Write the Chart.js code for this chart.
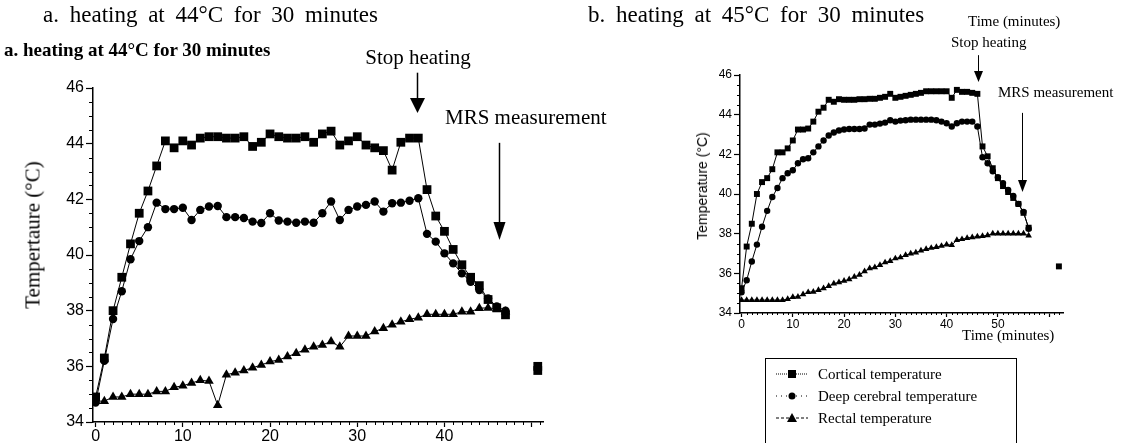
<!DOCTYPE html>
<html><head><meta charset="utf-8">
<script src="https://cdn.jsdelivr.net/npm/chart.js@4.4.1/dist/chart.umd.min.js"></script>
<style>
html,body{margin:0;padding:0;background:#fff;width:1130px;height:443px;overflow:hidden;position:relative;font-family:"Liberation Serif",serif;color:#000}
.t{position:absolute;white-space:nowrap;line-height:1}
#cA{position:absolute;left:0;top:0}
#cB{position:absolute;left:690px;top:0}
.legend{position:absolute;left:765px;top:358px;width:252px;height:120px;border:1px solid #000;box-sizing:border-box}
.lrow{position:absolute;left:8px;height:18px;font-size:15px;line-height:18px;white-space:nowrap}
.lrow svg{position:absolute;left:0;top:1px}
.lrow span{position:absolute;left:44px;top:0}
</style></head><body>
<canvas id="cA" width="565" height="443"></canvas>
<canvas id="cB" width="440" height="443"></canvas>

<div class="t" style="left:43px;top:3px;font-size:23px;word-spacing:5px">a. heating at 44°C for 30 minutes</div>
<div class="t" style="left:588px;top:3px;font-size:23px;word-spacing:5px">b. heating at 45°C for 30 minutes</div>
<div class="t" style="left:4px;top:40px;font-size:19px;font-weight:bold">a. heating at 44°C for 30 minutes</div>
<div class="t" style="left:418px;top:47px;font-size:21px;transform:translateX(-50%)">Stop heating</div>
<div class="t" style="left:445px;top:107px;font-size:21px">MRS measurement</div>
<div class="t" style="left:968px;top:14px;font-size:15px">Time (minutes)</div>
<div class="t" style="left:951px;top:35px;font-size:15px">Stop heating</div>
<div class="t" style="left:998px;top:85px;font-size:15px">MRS measurement</div>
<div class="t" style="left:962px;top:328px;font-size:15px">Time (minutes)</div>
<div class="t" style="left:33px;top:235px;font-size:21px;transform:translate(-50%,-50%) rotate(-90deg)">Tempertaure (°C)</div>
<div class="t" style="left:702px;top:186px;font-size:14px;font-family:'Liberation Sans',sans-serif;transform:translate(-50%,-50%) rotate(-90deg)">Temperature (°C)</div>

<div class="legend">
  <div class="lrow" style="top:6px"><svg width="36" height="16"><line x1="2" y1="8" x2="34" y2="8" stroke="#000" stroke-width="1" stroke-dasharray="1,1"/><rect x="14" y="4" width="8" height="8" fill="#000"/></svg><span>Cortical temperature</span></div>
  <div class="lrow" style="top:28px"><svg width="36" height="16"><line x1="2" y1="8" x2="34" y2="8" stroke="#000" stroke-width="1" stroke-dasharray="1,4"/><circle cx="18" cy="8" r="3.5" fill="#000"/></svg><span>Deep cerebral temperature</span></div>
  <div class="lrow" style="top:50px"><svg width="36" height="16"><line x1="2" y1="8" x2="34" y2="8" stroke="#000" stroke-width="1" stroke-dasharray="3,2"/><polygon points="18,3 23,12 13,12" fill="#000"/></svg><span>Rectal temperature</span></div>
</div>

<script>
// ---------- Panel a: heating at 44°C ----------
const timeA = [0,1,2,3,4,5,6,7,8,9,10,11,12,13,14,15,16,17,18,19,20,21,22,23,24,25,26,27,28,29,30,31,32,33,34,35,36,37,38,39,40,41,42,43,44,45,46,47];
const corticalA = [34.9,36.3,38.0,39.2,40.4,41.5,42.3,43.2,44.1,43.85,44.1,43.95,44.2,44.25,44.25,44.2,44.2,44.25,43.9,44.05,44.35,44.25,44.2,44.2,44.25,44.05,44.35,44.45,43.95,44.1,44.25,43.95,43.85,43.75,43.05,44.05,44.2,44.2,42.35,41.4,40.85,40.2,39.65,39.2,38.9,38.4,38.1,37.85];
const deepA = [34.7,36.2,37.7,38.7,39.85,40.5,41.0,41.88,41.65,41.65,41.7,41.26,41.62,41.74,41.76,41.36,41.36,41.33,41.2,41.15,41.5,41.24,41.2,41.16,41.2,41.16,41.5,41.92,41.26,41.62,41.74,41.8,41.92,41.56,41.86,41.88,41.95,42.04,40.76,40.48,40.06,39.7,39.34,39.04,38.74,38.44,38.15,38.0];
const rectalA = [34.75,34.75,34.9,34.9,35.0,35.0,35.0,35.1,35.1,35.25,35.3,35.4,35.5,35.47,34.6,35.7,35.77,35.85,35.95,36.05,36.17,36.23,36.35,36.47,36.6,36.7,36.77,36.89,36.7,37.09,37.09,37.09,37.25,37.37,37.49,37.6,37.69,37.75,37.87,37.87,37.87,37.87,37.96,37.96,38.09,38.1,38.07,37.96];
const extraTimeA = [50.7,50.7];
const extraCorticalA = [36.0,35.85];
const xTicksA = [0,10,20,30,40,50];
const xLabelsA = ['0','10','20','30','40',''];
const yTicks = [34,36,38,40,42,44,46];
const yMinor = [34.5,35,35.5,36.5,37,37.5,38.5,39,39.5,40.5,41,41.5,42.5,43,43.5,44.5,45,45.5];
const xMinorA = [1,2,3,4,5,6,7,8,9,11,12,13,14,15,16,17,18,19,21,22,23,24,25,26,27,28,29,31,32,33,34,35,36,37,38,39,41,42,43,44,45,46,47,48,49,51];
// arrows: [time, from temp, to temp]
const stopArrowA = [36.8, 46.55, 45.1];
const mrsArrowA = [46.2, 44.03, 40.54];

// ---------- Panel b: heating at 45°C ----------
const timeB = [0,1,2,3,4,5,6,7,8,9,10,11,12,13,14,15,16,17,18,19,20,21,22,23,24,25,26,27,28,29,30,31,32,33,34,35,36,37,38,39,40,41,42,43,44,45,46,47,48,49,50,51,52,53,54,55,56];
const corticalB = [35.25,37.35,38.5,40.0,40.6,40.8,41.25,42.1,42.1,42.3,42.7,43.25,43.25,43.3,43.65,44.15,44.35,44.75,44.65,44.78,44.75,44.75,44.75,44.78,44.78,44.8,44.8,44.85,44.9,45.05,44.85,44.9,44.95,45.0,45.05,45.1,45.18,45.18,45.18,45.18,45.18,44.85,45.25,45.15,45.15,45.1,45.05,42.4,41.9,41.3,40.8,40.4,40.1,39.8,39.5,39.05,38.3];
const deepB = [35.05,35.65,36.6,37.45,38.35,39.15,39.85,40.3,40.8,41.05,41.2,41.55,41.75,41.8,42.1,42.4,42.7,42.95,43.1,43.2,43.25,43.28,43.28,43.28,43.3,43.5,43.5,43.55,43.6,43.72,43.65,43.7,43.72,43.75,43.75,43.75,43.75,43.75,43.72,43.65,43.57,43.4,43.57,43.65,43.65,43.65,43.4,41.85,41.55,41.15,40.85,40.55,40.2,39.9,39.5,39.1,38.25];
const rectalB = [34.65,34.65,34.65,34.65,34.65,34.65,34.65,34.65,34.65,34.7,34.8,34.82,34.94,35.05,35.07,35.16,35.24,35.36,35.48,35.55,35.62,35.7,35.82,35.92,36.1,36.25,36.3,36.42,36.55,36.62,36.75,36.8,36.92,37.0,37.05,37.15,37.22,37.28,37.32,37.38,37.45,37.42,37.68,37.72,37.78,37.82,37.85,37.88,37.92,38.0,38.0,38.0,38.0,38.0,38.0,38.0,37.9];
const extraTimeB = [61.9];
const extraCorticalB = [36.35];
const xTicksB = [0,10,20,30,40,50,60];
const xLabelsB = ['0','10','20','30','40','50',''];
const xMinorB = [1,2,3,4,5,6,7,8,9,11,12,13,14,15,16,17,18,19,21,22,23,24,25,26,27,28,29,31,32,33,34,35,36,37,38,39,41,42,43,44,45,46,47,48,49,51,52,53,54,55,56,57,58,59,61,62];
const stopArrowB = [46.1, 47.0, 45.65];
const mrsArrowB = [54.7, 44.09, 40.1];

const pts = (xs, ys) => xs.map((x, i) => ({x, y: ys[i]}));

const decor = {
  id: 'decor',
  afterDraw(chart, args, o) {
    const {ctx, chartArea: ca} = chart;
    const xs = chart.scales.x, ys = chart.scales.y;
    ctx.save();
    ctx.strokeStyle = '#000'; ctx.fillStyle = '#000'; ctx.lineWidth = 1;
    o.yMinor.forEach(v => {
      const p = Math.round(ys.getPixelForValue(v)) + 0.5;
      ctx.beginPath(); ctx.moveTo(ca.left - o.minorLen, p); ctx.lineTo(ca.left, p); ctx.stroke();
    });
    o.xMinor.forEach(v => {
      const p = Math.round(xs.getPixelForValue(v)) + 0.5;
      ctx.beginPath(); ctx.moveTo(p, ca.bottom); ctx.lineTo(p, ca.bottom + o.minorLenX); ctx.stroke();
    });
    o.arrows.forEach((a, k) => {
      const hw = o.heads[k][0], hh = o.heads[k][1];
      const x = Math.round(xs.getPixelForValue(a[0])) + 0.5;
      const y1 = ys.getPixelForValue(a[1]), y2 = ys.getPixelForValue(a[2]);
      ctx.lineWidth = o.arrowWidth;
      ctx.beginPath(); ctx.moveTo(x, y1); ctx.lineTo(x, y2 - hh + 1); ctx.stroke();
      ctx.beginPath(); ctx.moveTo(x - hw / 2, y2 - hh); ctx.lineTo(x + hw / 2, y2 - hh); ctx.lineTo(x, y2); ctx.closePath(); ctx.fill();
    });
    ctx.restore();
  }
};

function makeChart(id, cfg) {
  const ds = (data, style, r) => ({
    data, borderColor: '#000', borderWidth: 1, backgroundColor: '#000',
    pointStyle: style, pointRadius: r, pointHoverRadius: r, pointBackgroundColor: '#000',
    pointBorderColor: '#000', pointBorderWidth: 0, tension: 0, fill: false
  });
  const lone = ds(cfg.extra, 'rect', cfg.r[0]); lone.showLine = false;
  return new Chart(document.getElementById(id), {
    type: 'line',
    data: {datasets: [
      ds(cfg.cort, 'rect', cfg.r[0]),
      ds(cfg.deep, 'circle', cfg.r[1]),
      ds(cfg.rect, 'triangle', cfg.r[2]),
      lone
    ]},
    options: {
      responsive: false, animation: false, events: [],
      layout: {padding: cfg.pad},
      plugins: {legend: {display: false}, tooltip: {enabled: false},
        decor: {yMinor: yMinor, xMinor: cfg.xMinor, minorLen: cfg.minorLen, minorLenX: cfg.minorLenX,
                arrows: cfg.arrows, heads: cfg.heads, arrowWidth: cfg.arrowWidth}},
      scales: {
        x: {type: 'linear', min: cfg.xmin, max: cfg.xmax,
          afterBuildTicks: s => { s.ticks = cfg.xTicks.map(v => ({value: v})); },
          afterFit: s => { s.height = cfg.xh; },
          grid: {drawOnChartArea: false, drawTicks: true, tickLength: cfg.xTickLen, color: '#000', tickColor: '#000', tickWidth: 1.2},
          border: {display: true, color: '#000', width: 1.5},
          ticks: {color: '#000', autoSkip: false, maxRotation: 0, padding: cfg.xPad,
            font: {family: 'Liberation Sans', size: cfg.fs},
            callback: v => cfg.xLabels[cfg.xTicks.indexOf(v)]}
        },
        y: {type: 'linear', min: 34, max: 46,
          afterBuildTicks: s => { s.ticks = yTicks.map(v => ({value: v})); },
          afterFit: s => { s.width = cfg.yw; },
          grid: {drawOnChartArea: false, drawTicks: true, tickLength: cfg.yTickLen, color: '#000', tickColor: '#000', tickWidth: 1.2},
          border: {display: true, color: '#000', width: 1.5},
          ticks: {color: '#000', padding: cfg.yPad, font: {family: 'Liberation Sans', size: cfg.fs},
            callback: v => String(v)}
        }
      }
    },
    plugins: [decor]
  });
}

makeChart('cA', {
  cort: pts(timeA, corticalA), deep: pts(timeA, deepA), rect: pts(timeA, rectalA), extra: pts(extraTimeA, extraCorticalA),
  r: [6.2, 4.2, 5.5], pad: {left: 0, right: 22, top: 88, bottom: 0},
  xmin: -0.3, xmax: 51.3, xTicks: xTicksA, xLabels: xLabelsA, xMinor: xMinorA,
  xh: 21, yw: 93, fs: 16, xTickLen: 5, yTickLen: 7, xPad: 0, yPad: 2, minorLen: 4, minorLenX: 3,
  arrows: [stopArrowA, mrsArrowA], heads: [[15, 15], [12, 18]], arrowWidth: 1.5
});

makeChart('cB', {
  cort: pts(timeB, corticalB), deep: pts(timeB, deepB), rect: pts(timeB, rectalB), extra: pts(extraTimeB, extraCorticalB),
  r: [4.2, 3.2, 3.8], pad: {left: 0, right: 67, top: 75, bottom: 110},
  xmin: -0.3, xmax: 62.7, xTicks: xTicksB, xLabels: xLabelsB, xMinor: xMinorB,
  xh: 20, yw: 50, fs: 12, xTickLen: 4, yTickLen: 6, xPad: 0, yPad: 2, minorLen: 3, minorLenX: 2,
  arrows: [stopArrowB, mrsArrowB], heads: [[9, 11], [9, 12]], arrowWidth: 1
});
</script>
</body></html>
